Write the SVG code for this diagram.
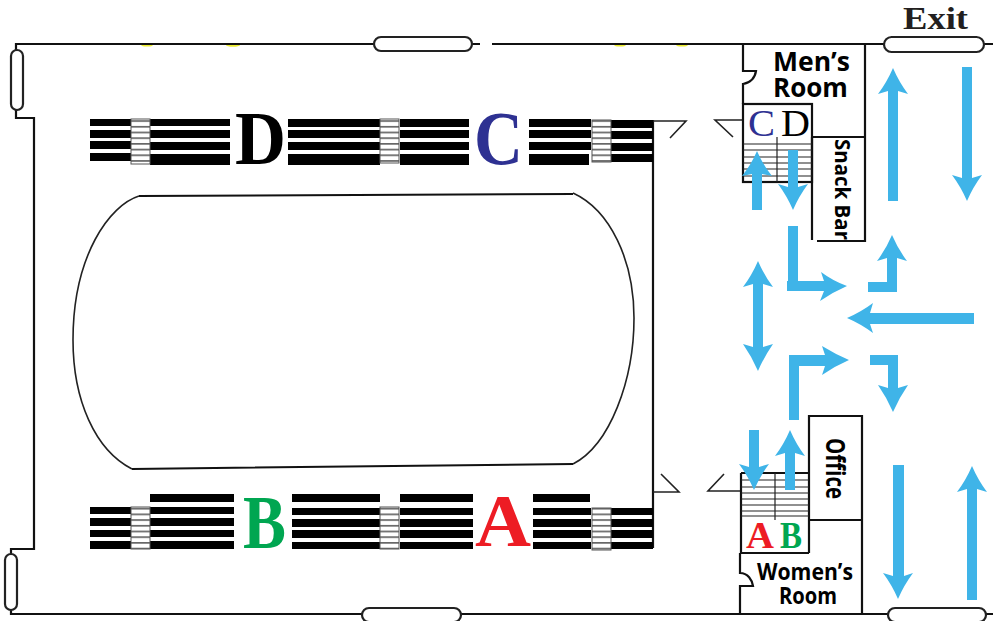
<svg xmlns="http://www.w3.org/2000/svg" width="993" height="621" viewBox="0 0 993 621">
<style>
.w{fill:none;stroke:#111;stroke-width:2.2}
.t{fill:none;stroke:#222;stroke-width:1.6}
.p{fill:#fff;stroke:#222;stroke-width:2.2}
.b{fill:#000}
.a{fill:#3fb4e8}
.s{font-family:"Liberation Serif",serif;font-weight:bold}
.r{font-family:"Liberation Serif",serif}
.o{font-family:"Open Sans","Noto Sans",sans-serif;font-weight:bold;fill:#000}
.l{stroke:#222;stroke-width:1.2}
</style>
<defs>
<pattern id="st" width="10" height="5.7" patternUnits="userSpaceOnUse" y="0.5"><rect width="10" height="5.7" fill="#fff"/><rect width="10" height="1.7" fill="#666"/></pattern>
</defs>
<rect width="993" height="621" fill="#fff"/>
<g id="marks" fill="#ecec30"><ellipse cx="147" cy="45" rx="6" ry="1.6"/><ellipse cx="233" cy="45" rx="7" ry="1.8"/><ellipse cx="620" cy="45" rx="6" ry="1.6"/><ellipse cx="682" cy="45" rx="6" ry="1.6"/></g>
<g id="walls">
<path class="w" d="M16 50V44H480M492 44H993M16 110V118H34V549H11V554M11 610V614H993"/>
<path class="w" d="M653 120V548"/>
<path class="t" d="M653 121H686L670 138M733 137L715 120H743M653 492H679L661 474M724 474L708 491H741"/>
<rect class="p" x="11" y="50" width="12" height="60" rx="6"/>
<rect class="p" x="5" y="554" width="12" height="56" rx="6"/>
<rect class="p" x="374" y="37" width="98" height="14" rx="7"/>
<rect class="p" x="884" y="37" width="100" height="15" rx="7.5"/>
<rect class="p" x="362" y="608" width="99" height="14" rx="7"/>
<rect class="p" x="888" y="608" width="98" height="14" rx="7"/>
</g>
<g id="rink"><path d="M139 196C110 205 73 255 73 340C73 400 95 450 132 469" fill="none" stroke="#222" stroke-width="1.6"/><path d="M573 193C610 210 634 260 634 318C634 380 610 445 573 464" fill="none" stroke="#222" stroke-width="1.6"/><path d="M139 196L573 194M132 469L573 464" fill="none" stroke="#111" stroke-width="2"/></g>
<g id="seats-top" class="b">
<path d="M90 119h41v7h-41zM90 130h41v8h-41zM90 141h41v8h-41zM90 153h41v8h-41zM150 119h80v7h-80zM150 130h80v8h-80zM150 142h80v8h-80zM150 154h80v11h-80z"/>
<path d="M288 119h92v8h-92zM288 130h92v8h-92zM288 142h92v8h-92zM288 154h92v11h-92zM400 119h69v8h-69zM400 130h69v8h-69zM400 142h69v8h-69zM400 154h69v11h-69z"/>
<path d="M529 119h62v8h-62zM529 130h62v8h-62zM529 142h62v8h-62zM529 154h60v11h-60zM611 120h42v8h-42zM611 131h42v8h-42zM611 143h42v8h-42zM611 154h42v8h-42z"/>
</g>
<g id="seats-bottom" class="b">
<path d="M90 507h41v7h-41zM90 518h41v8h-41zM90 530h41v7h-41zM90 541h41v8h-41zM150 494h84v8h-84zM150 507h84v7h-84zM150 518h84v8h-84zM150 530h84v7h-84zM150 541h84v8h-84z"/>
<path d="M292 494h88v8h-88zM292 508h88v7h-88zM292 519h88v8h-88zM292 530h88v8h-88zM292 542h88v7h-88zM400 494h73v8h-73zM400 508h73v7h-73zM400 519h73v8h-73zM400 530h73v8h-73zM400 542h73v7h-73z"/>
<path d="M533 494h57v8h-57zM533 508h58v7h-58zM533 519h58v8h-58zM533 530h58v8h-58zM533 542h58v7h-58zM611 508h42v7h-42zM611 519h42v8h-42zM611 530h42v8h-42zM611 542h42v7h-42z"/>
</g>
<g id="aisles" fill="url(#st)" stroke="#555" stroke-width="1">
<rect x="131" y="119" width="19" height="45"/><rect x="380" y="119" width="19" height="44"/><rect x="592" y="120" width="19" height="42"/>
<rect x="131" y="507" width="19" height="42"/><rect x="380" y="507" width="19" height="42"/><rect x="592" y="508" width="19" height="42"/>
</g>
<g id="mens">
<path class="w" d="M743 44V71H756C755 78 750 83 743 84V104M865 44V241H817M812 137H865M812 137V240"/>
<rect class="w" x="743" y="104" width="69" height="78"/>
<path class="l" d="M743 144H812M743 150H812M743 157H812M743 163H812M743 169H812M743 176H812M777 137V182"/>
<text class="r" x="748" y="136" font-size="37" fill="#2e3192" textLength="27" lengthAdjust="spacingAndGlyphs">C</text>
<text class="r" x="781" y="136" font-size="37" fill="#000" textLength="29" lengthAdjust="spacingAndGlyphs">D</text>
<text class="o" font-size="26"><tspan x="773" y="71" textLength="77" lengthAdjust="spacingAndGlyphs">Men’s</tspan><tspan x="773" y="97">Room</tspan></text>
<text class="o" transform="translate(835,139) rotate(90)" font-size="22" textLength="101" lengthAdjust="spacingAndGlyphs">Snack Bar</text>
</g>
<g id="womens">
<path class="w" d="M809 553V416H862V614M809 520H862M741 473H809M741 473V553H809M740 553V573C748 573 752 580 753 586H740V614"/>
<path class="l" d="M741 480H809M741 487H809M741 493H809M741 499H809M741 505H809M741 511H809M741 516H809M775 473V520"/>
<text class="s" x="746" y="548" font-size="37" fill="#ed1c24" textLength="28" lengthAdjust="spacingAndGlyphs">A</text>
<text class="s" x="780" y="548" font-size="37" fill="#00a651" textLength="22" lengthAdjust="spacingAndGlyphs">B</text>
<text class="o" font-size="24"><tspan x="757" y="580" textLength="96" lengthAdjust="spacingAndGlyphs">Women’s</tspan><tspan x="779" y="604" textLength="58" lengthAdjust="spacingAndGlyphs">Room</tspan></text>
<text class="o" transform="translate(826,438) rotate(90)" font-size="27" textLength="61" lengthAdjust="spacingAndGlyphs">Office</text>
</g>
<g id="section-labels">
<text class="s" x="235" y="164" font-size="76" fill="#000" textLength="51" lengthAdjust="spacingAndGlyphs">D</text>
<text class="s" x="474" y="164" font-size="76" fill="#2e3192" textLength="49" lengthAdjust="spacingAndGlyphs">C</text>
<text class="s" x="243" y="548" font-size="76" fill="#00a651" textLength="43" lengthAdjust="spacingAndGlyphs">B</text>
<text class="s" x="475" y="546" font-size="73" fill="#ed1c24" textLength="56" lengthAdjust="spacingAndGlyphs">A</text>
<text class="s" x="903" y="29" font-size="32" fill="#231f20" textLength="65" lengthAdjust="spacingAndGlyphs">Exit</text>
</g>
<g id="connectors" class="a">
<path d="M893 68Q899 82 908 94L898 91V201H888V91L878 94Q887 82 893 68Z"/>
<path d="M967 201Q961 187 952 175L962 178V67H972V178L982 175Q973 187 967 201Z"/>
<path d="M757 151Q763 165 772 176L762 174V210H752V174L742 176Q751 165 757 151Z"/>
<path d="M793 210Q787 196 778 184L788 187V150H798V187L808 184Q799 196 793 210Z"/>
<path d="M788 226H798V281H824L821 272Q833 281 847 286Q833 292 820 301L824 291H787V281H788Z"/>
<path d="M868 282H887V258L877 261Q886 249 892 235Q898 249 907 261L897 258V292H868Z"/>
<path d="M847 318Q861 312 873 303L870 313H974V324H870L873 333Q861 324 847 318Z"/>
<path d="M758 261Q764 275 773 287L763 284V347L773 344Q764 357 758 371Q752 357 743 344L753 347V284L743 287Q752 275 758 261Z"/>
<path d="M789 420V355H825L822 346Q835 354 849 360Q835 366 822 375L825 366H799V420Z"/>
<path d="M870 355H898V388L908 385Q899 398 893 412Q887 398 878 385L888 388V365H870Z"/>
<path d="M754 490Q748 476 739 464L749 467V430H759V467L769 464Q760 476 754 490Z"/>
<path d="M790 430Q796 444 805 456L795 453V490H785V453L775 456Q784 444 790 430Z"/>
<path d="M898 599Q892 585 883 573L893 576V465H904V576L913 573Q904 585 898 599Z"/>
<path d="M972 466Q978 480 987 492L977 489V600H967V489L957 492Q966 480 972 466Z"/>
</g>
</svg>
